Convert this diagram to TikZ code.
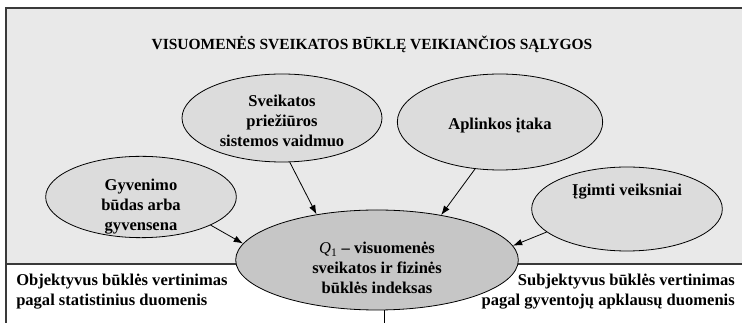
\documentclass[tikz,border=0pt]{standalone}
\usepackage{fontspec}
\setmainfont{Liberation Serif}
\usetikzlibrary{arrows.meta,shapes.geometric}
\definecolor{panel}{HTML}{E9E9E9}
\definecolor{frame}{HTML}{3A3A3A}
\definecolor{ovalgray}{HTML}{DCDCDC}
\definecolor{coregray}{HTML}{C6C6C6}

\begin{document}
\begin{tikzpicture}[x=0.75pt,y=-0.75pt,
  txt/.style={font=\bfseries\fontsize{12.4}{15}\selectfont,align=center,inner sep=0pt},
  head/.style={font=\bfseries\fontsize{11.6}{14}\selectfont,inner sep=0pt},
  oval/.style={ellipse,draw=black,line width=0.6pt,fill=ovalgray,inner sep=0pt},
  arr/.style={-{Latex[length=7pt,width=5pt]},line width=0.6pt}]
\useasboundingbox (0,0) rectangle (742,323);
\fill[panel] (6,8) rectangle (742,264);
\draw[frame,line width=1.1pt] (742,8) -- (6,8) -- (6,323);
\draw[frame,line width=0.8pt] (6,264) -- (742,264);
\node[head] (title) at (372,44) {VISUOMENĖS SVEIKATOS BŪKLĘ VEIKIANČIOS SĄLYGOS};
% veiksniai
\node[oval,minimum width=150pt,minimum height=66pt] (care) at (282,118) {};
\node[txt] (caretxt) at (282,121) {Sveikatos\\priežiūros\\sistemos vaidmuo};
\node[oval,minimum width=154pt,minimum height=72pt] (env) at (500,122) {};
\node[txt] (envtxt) at (500,126) {Aplinkos įtaka};
\node[oval,minimum width=143pt,minimum height=61pt] (life) at (141,197) {};
\node[txt] (lifetxt) at (141,207) {Gyvenimo\\būdas arba\\gyvensena};
\node[oval,minimum width=143pt,minimum height=63pt] (innate) at (627,209) {};
\node[txt] (innatetxt) at (627,192) {Įgimti veiksniai};
% indeksas
\node[ellipse,draw=black,line width=0.6pt,fill=coregray,inner sep=0pt,
  minimum width=212pt,minimum height=75pt] (core) at (377,260) {};
\node[txt] (coretxt) at (377,268) {{\mdseries\itshape Q}\textsubscript{\mdseries 1} -- visuomenės\\sveikatos ir fizinės\\būklės indeksas};
\node[txt,align=left,anchor=west] (objtxt) at (16,292) {Objektyvus būklės vertinimas\\pagal statistinius duomenis};
\node[txt,align=right,anchor=east] (subtxt) at (735,292) {Subjektyvus būklės vertinimas\\pagal gyventojų apklausų duomenis};
\draw[arr] (care.-80) -- (core.143);
\draw[arr] (env.-118) -- (core.35);
\draw[arr] (life.-22) -- (core.173);
\draw[arr] (innate.-164) -- (core.6);
\coordinate (stem) at (384,323);
\draw[line width=0.6pt] (stem |- core.south) -- (stem);
\end{tikzpicture}
\end{document}
